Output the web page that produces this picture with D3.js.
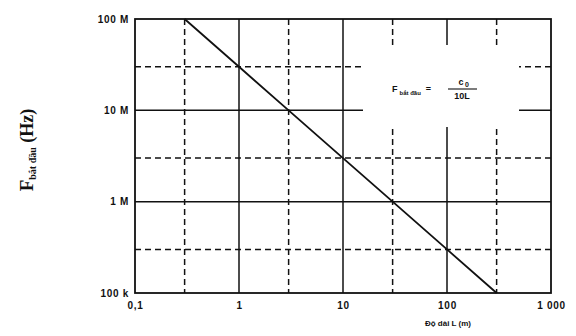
<!DOCTYPE html>
<html>
<head>
<meta charset="utf-8">
<script src="https://cdn.jsdelivr.net/npm/d3@7"></script>
<style>
  html, body { margin: 0; padding: 0; background: #fff; }
  svg { display: block; }
  .tick text { font-family: "Liberation Sans", Arial, sans-serif; font-weight: bold; }
</style>
</head>
<body>
<svg id="chart" width="576" height="336"></svg>
<script>
// ---- data ----
const lengthL = [0.3, 1, 3, 10, 30, 100, 300];             // m
const freqStart = [1e8, 3e7, 1e7, 3e6, 1e6, 3e5, 1e5];       // Hz  (F = c0 / 10L)
const xTickValues = [0.1, 1, 10, 100, 1000];
const xTickLabels = ["0,1", "1", "10", "100", "1 000"];
const yTickValues = [1e5, 1e6, 1e7, 1e8];
const yTickLabels = ["100 k", "1 M", "10 M", "100 M"];
const xSolidGrid = [1, 10, 100];
const xDashedGrid = [0.3, 3, 30, 300];
const ySolidGrid = [1e6, 1e7];
const yDashedGrid = [3e5, 3e6, 3e7];

// ---- layout ----
const pL = 135, pR = 551, pT = 19, pB = 293;
const svg = d3.select("#chart");
const x = d3.scaleLog().domain([0.1, 1000]).range([pL, pR]);
const y = d3.scaleLog().domain([1e5, 1e8]).range([pB, pT]);

const grid = svg.append("g");
grid.selectAll("line.vs").data(xSolidGrid).join("line")
  .attr("x1", d => x(d)).attr("x2", d => x(d)).attr("y1", pT).attr("y2", pB)
  .attr("stroke", "#111").attr("stroke-width", 1.5);
grid.selectAll("line.vd").data(xDashedGrid).join("line")
  .attr("x1", d => x(d)).attr("x2", d => x(d)).attr("y1", pT).attr("y2", pB)
  .attr("stroke", "#111").attr("stroke-width", 1.5).attr("stroke-dasharray", "6,4");
grid.selectAll("line.hs").data(ySolidGrid).join("line")
  .attr("x1", pL).attr("x2", pR).attr("y1", d => y(d)).attr("y2", d => y(d))
  .attr("stroke", "#111").attr("stroke-width", 1.5);
grid.selectAll("line.hd").data(yDashedGrid).join("line")
  .attr("x1", pL).attr("x2", pR).attr("y1", d => y(d)).attr("y2", d => y(d))
  .attr("stroke", "#111").attr("stroke-width", 1.5).attr("stroke-dasharray", "6,4");

// white area behind formula
svg.append("rect").attr("x", 363).attr("y", 45).attr("width", 156).attr("height", 82).attr("fill", "#fff");

// frame
svg.append("rect").attr("x", pL).attr("y", pT).attr("width", pR - pL).attr("height", pB - pT)
  .attr("fill", "none").attr("stroke", "#111").attr("stroke-width", 1.8);

// line
const pts = lengthL.map((d, i) => [d, freqStart[i]]);
svg.append("path").datum(pts)
  .attr("d", d3.line().x(d => x(d[0])).y(d => y(d[1])))
  .attr("fill", "none").attr("stroke", "#111").attr("stroke-width", 1.8);

// axes
const xAxis = svg.append("g").attr("transform", `translate(0,${pB})`)
  .call(d3.axisBottom(x).tickValues(xTickValues).tickFormat((d, i) => xTickLabels[i]).tickSize(0).tickPadding(9));
xAxis.select(".domain").remove();
xAxis.selectAll("text").attr("font-size", 10).attr("letter-spacing", 0.7).attr("fill", "#111");

const yAxis = svg.append("g").attr("transform", `translate(${pL},0)`)
  .call(d3.axisLeft(y).tickValues(yTickValues).tickFormat((d, i) => yTickLabels[i]).tickSize(0).tickPadding(6));
yAxis.select(".domain").remove();
yAxis.selectAll("text").attr("font-size", 10).attr("letter-spacing", 0.7).attr("fill", "#111");

// x-axis title
svg.append("text").attr("x", 448).attr("y", 326).attr("text-anchor", "middle")
  .attr("font-family", "Liberation Sans, Arial, sans-serif").attr("font-weight", "bold")
  .attr("font-size", 8).attr("fill", "#111").text("Độ dài L (m)");

// y-axis title
const yt = svg.append("text").attr("transform", "translate(33,150) rotate(-90)")
  .attr("text-anchor", "middle").attr("font-family", "Liberation Serif, Times New Roman, serif")
  .attr("font-weight", "bold").attr("fill", "#111");
yt.append("tspan").attr("font-size", 19).text("F");
yt.append("tspan").attr("font-size", 10).attr("dy", 3).text("bắt đầu");
yt.append("tspan").attr("font-size", 18).attr("dy", -3).text(" (Hz)");

// formula
const fg = svg.append("g").attr("font-family", "Liberation Sans, Arial, sans-serif").attr("font-weight", "bold").attr("fill", "#111");
const ft = fg.append("text").attr("x", 392).attr("y", 92);
ft.append("tspan").attr("font-size", 9).text("F");
ft.append("tspan").attr("font-size", 6).attr("dx", 2).attr("dy", 3).text("bắt đầu");
ft.append("tspan").attr("font-size", 9).attr("dx", 5).attr("dy", -3).text("=");
fg.append("text").attr("x", 461).attr("y", 85).attr("text-anchor", "middle").attr("font-size", 9).text("c");
fg.append("text").attr("x", 467).attr("y", 87).attr("text-anchor", "middle").attr("font-size", 7).text("0");
fg.append("line").attr("x1", 448).attr("x2", 477).attr("y1", 89).attr("y2", 89).attr("stroke", "#111").attr("stroke-width", 1.1);
fg.append("text").attr("x", 462).attr("y", 99).attr("text-anchor", "middle").attr("font-size", 9).text("10L");
</script>
</body>
</html>
